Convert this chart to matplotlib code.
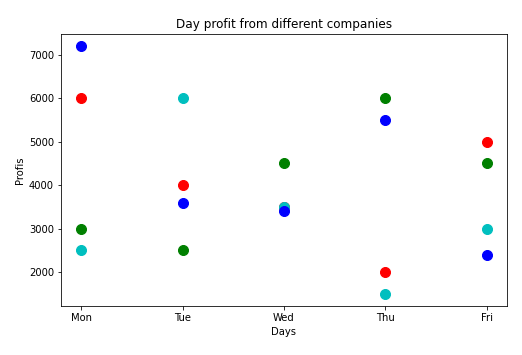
import matplotlib
matplotlib.use('Agg')
import matplotlib.pyplot as plt

days = ['Mon', 'Tue', 'Wed', 'Thu', 'Fri']
red_co = [6000, 4000, 3500, 2000, 5000]
cyan_co = [2500, 6000, 3500, 1500, 3000]
green_co = [3000, 2500, 4500, 6000, 4500]
blue_co = [7200, 3600, 3400, 5500, 2400]

fig = plt.figure(figsize=(522/72, 355/72), dpi=72)
ax = fig.add_axes([61/522, 1 - 306/355, 446/522, 272/355])

ax.scatter(days, red_co, color='r', s=100)
ax.scatter(days, cyan_co, color='c', s=100)
ax.scatter(days, green_co, color='g', s=100)
ax.scatter(days, blue_co, color='b', s=100)

ax.set_title("Day profit from different companies")
ax.set_xlabel("Days")
ax.set_ylabel("Profis")

fig.savefig('out.png', dpi=72)
